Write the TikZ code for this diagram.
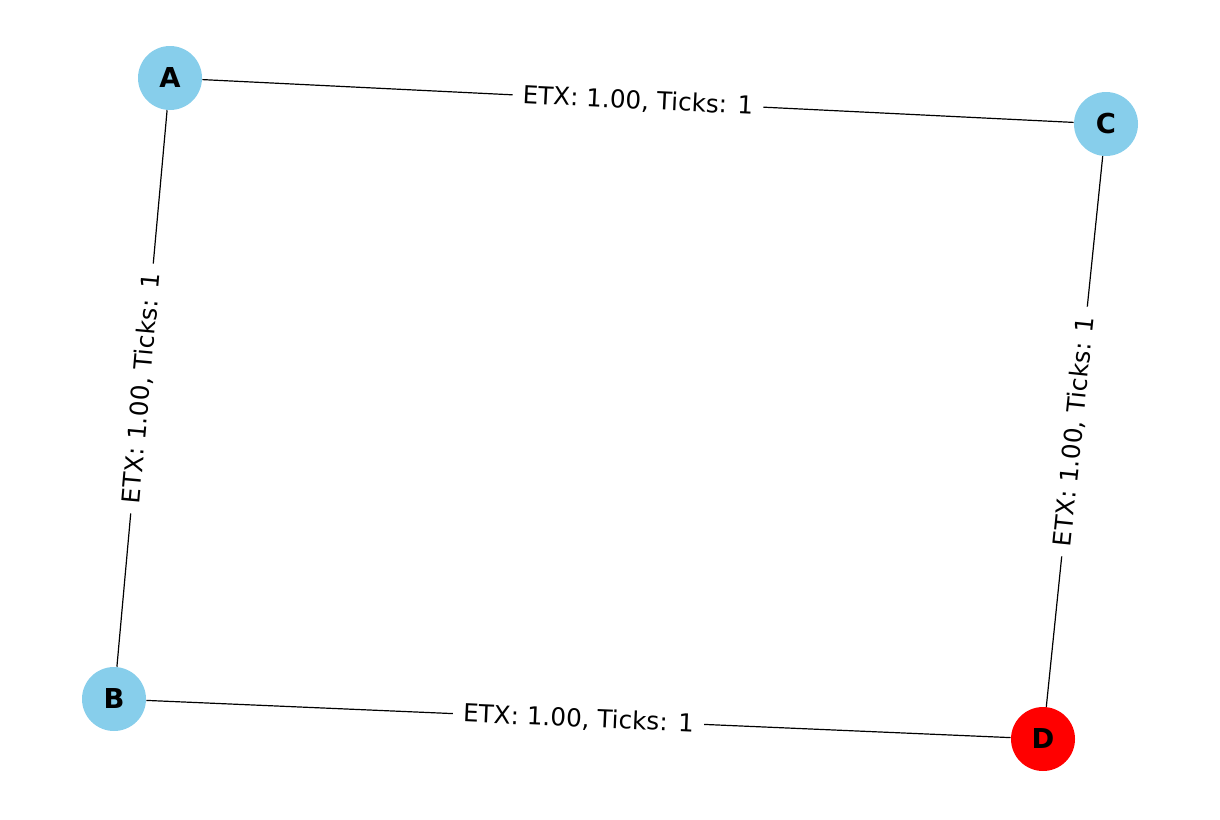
\documentclass[tikz,border=0pt]{standalone}
\usepackage{fontspec}
\setmainfont{DejaVu Sans}
\definecolor{ciel}{HTML}{87CEEB}
\begin{document}
\begin{tikzpicture}[x=0.5pt, y=-0.5pt,
  sommet/.style={circle, minimum size=32pt, inner sep=0pt, font=\fontsize{13.7}{16}\selectfont\bfseries},
  arete/.style={line width=0.6pt},
  etiq/.style={fill=white, sloped, inner ysep=1pt, inner xsep=5pt, font=\fontsize{12.35}{15}\selectfont}]
  \useasboundingbox (0,0) rectangle (1220,819);

  % Sommets
  \node[sommet, fill=ciel] (A) at (170,78) {A};
  \node[sommet, fill=ciel] (C) at (1106,124) {C};
  \node[sommet, fill=ciel] (B) at (114,699) {B};
  \node[sommet, fill=red] (D) at (1043,739) {D};

  % Arêtes et étiquettes
  \draw[arete] (A) -- node[etiq] {ETX: 1.00, Ticks: 1} (C);
  \draw[arete] (A) -- node[etiq] {ETX: 1.00, Ticks: 1} (B);
  \draw[arete] (C) -- node[etiq] {ETX: 1.00, Ticks: 1} (D);
  \draw[arete] (B) -- node[etiq] {ETX: 1.00, Ticks: 1} (D);

\end{tikzpicture}
\end{document}
